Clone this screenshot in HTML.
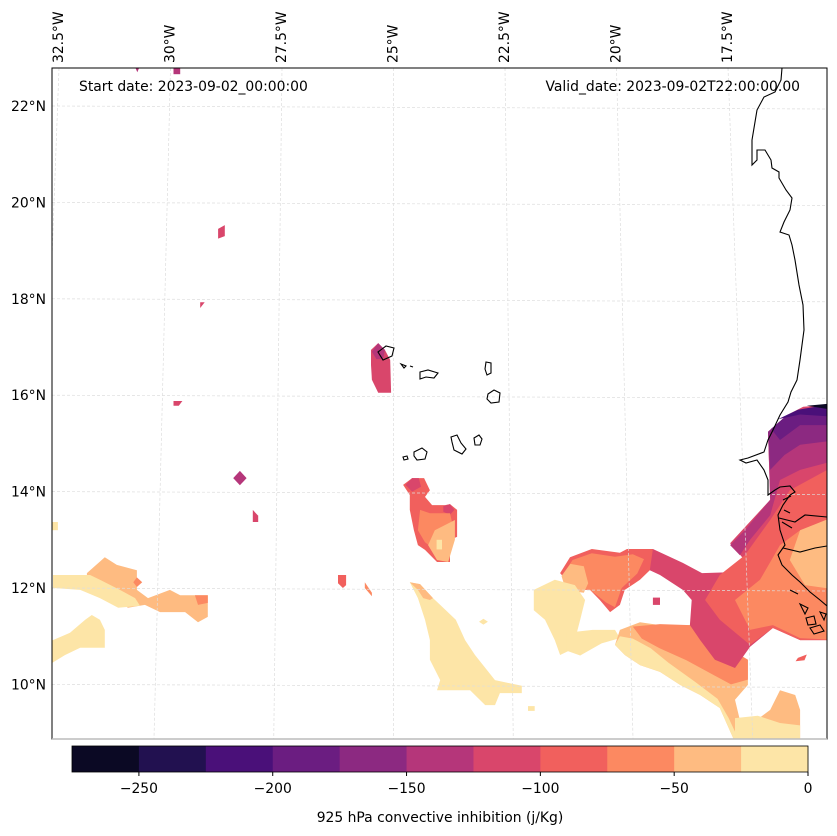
<!DOCTYPE html>
<html><head><meta charset="utf-8"><style>
html,body{margin:0;padding:0;background:#fff;}
svg{display:block;font-family:"DejaVu Sans","Liberation Sans",sans-serif;}
</style></head><body>
<svg id="chart" width="837" height="836" viewBox="0 0 837 836">
<defs><clipPath id="mapclip"><rect x="52" y="68" width="775" height="671"/></clipPath></defs>
<g id="fills" clip-path="url(#mapclip)"></g>
<g id="grid" clip-path="url(#mapclip)"></g>
<g clip-path="url(#mapclip)" fill="none" stroke="#000" stroke-width="1.1">
<path d="M782,68 L781,80 775,92 764,97 757,110 752,140 752,165 757,160 757,150 765,150 771,160 772,168 779,172 779,178 786,190 792,198 790,210 784,222 780,232 789,235 792,245 795,260 799,285 803,305 804,330 800,360 797,380 791,392 788,402 780,415 773,430 768,440 764,452 748,458 740,460 746,463 757,460 764,470 768,480 768,495 775,490 780,487 790,486 795,492 790,495 783,505 778,515 780,530 785,545 778,555 782,565 792,575 800,582 810,592 820,600 827,606"/>
<path d="M779,518 L795,522 805,515 827,517"/>
<path d="M783,548 L800,552 815,548 827,546"/>
<path d="M783,500 l8,-4 M784,510 l6,3 M782,522 l10,6 M790,590 l8,4 M800,604 l8,4 l-3,6 z M806,618 l8,-2 l2,8 l-8,1 z M810,628 l10,-3 l4,6 l-10,3 z M820,612 l6,2 l-2,6 z"/>
<path d="M378,352 l8,-6 l8,2 l-2,8 l-9,4 z"/>
<path d="M401,364 l5,2 l-2,2 z M410,366 l3,1"/>
<path d="M420,372 l8,-2 l10,3 l-4,5 l-8,-1 l-6,2 z"/>
<path d="M486,362 l5,1 l0,10 l-4,2 l-2,-6 z"/>
<path d="M488,394 l6,-4 l6,3 l-1,9 l-8,1 l-4,-4 z"/>
<path d="M451,437 l6,-2 l4,8 l5,6 l-4,5 l-8,-4 l-2,-8 z"/>
<path d="M474,438 l5,-3 l3,4 l-2,6 l-5,0 z"/>
<path d="M414,452 l8,-4 l5,4 l-2,7 l-8,1 l-3,-4 z"/>
<path d="M403,457 l4,-1 l1,3 l-4,1 z"/>
</g>
<rect x="52" y="68" width="775" height="671" fill="none" stroke="#000" stroke-width="1"/>
<line x1="52" y1="739" x2="827" y2="739" stroke="#bbb" stroke-width="1.5"/>
<g id="lonlabels" font-size="13.9" fill="#000"></g>
<g id="latlabels" font-size="13.9" fill="#000" text-anchor="end"></g>
<text x="79" y="91" font-size="13.9">Start date: 2023-09-02_00:00:00</text>
<text x="800" y="91" font-size="13.9" text-anchor="end">Valid_date: 2023-09-02T22:00:00.00</text>
<g id="cbar"></g>
<text x="440" y="822" font-size="13.9" text-anchor="middle">925 hPa convective inhibition (j/Kg)</text>
</svg>
<script>
const levels = [-275,-250,-225,-200,-175,-150,-125,-100,-75,-50,-25,0];
const levelColors = ["#0b0924","#221150","#4a1079","#6b1d81","#8c2981","#b5367a","#d9466b","#f1605d","#fc8961","#febb81","#fde5a7"];
const cbarTicks = [-250,-200,-150,-100,-50,0];
const lonTicks = [-32.5,-30,-27.5,-25,-22.5,-20,-17.5];
const lonTickLabels = ["32.5°W","30°W","27.5°W","25°W","22.5°W","20°W","17.5°W"];
const latTicks = [22,20,18,16,14,12,10];
const latTickLabels = ["22°N","20°N","18°N","16°N","14°N","12°N","10°N"];
// contour blobs: representative CIN value and lon/lat ring
const blobCin = [-40,-10,-60,-60,-10,-10,
 -90,-110,-110,-60,-40,-10,
 -110,-140,-140,-110,-110,-110,-110,-130,-130,-80,-60,
 -10,-40,-10,-10,
 -90,-60,-40,-10,-10,
 -40,-60,-10,-10,
 -110,-90,-60,-40,-140,-160,-190,-210,-260,-90,-110];
const blobRings = [
 [[-31.84,12.31],[-31.44,12.64],[-31.17,12.48],[-30.72,12.37],[-30.72,11.96],[-30.47,11.79],[-29.98,11.96],[-29.75,11.85],[-29.13,11.85],[-29.13,11.40],[-29.35,11.29],[-29.64,11.50],[-30.20,11.50],[-30.54,11.65],[-30.92,11.59],[-31.21,11.75],[-31.66,11.96],[-31.84,12.17]],
 [[-32.60,12.27],[-31.77,12.27],[-31.55,12.17],[-31.10,11.96],[-30.76,11.79],[-30.65,11.63],[-31.14,11.59],[-31.55,11.79],[-31.99,11.96],[-32.60,12.00]],
 [[-29.42,11.85],[-29.13,11.85],[-29.13,11.69],[-29.35,11.65]],
 [[-30.80,12.12],[-30.72,12.22],[-30.60,12.12],[-30.72,12.02]],
 [[-32.70,10.88],[-32.22,11.07],[-31.88,11.34],[-31.73,11.44],[-31.55,11.34],[-31.44,11.13],[-31.44,10.76],[-31.99,10.76],[-32.33,10.61],[-32.70,10.40]],
 [[-32.70,13.37],[-32.49,13.37],[-32.49,13.20],[-32.70,13.20]],
 [[-24.75,14.14],[-24.55,14.28],[-24.28,14.28],[-24.15,14.03],[-24.26,13.89],[-24.10,13.72],[-23.81,13.72],[-23.70,13.74],[-23.54,13.62],[-23.54,13.06],[-23.70,13.00],[-23.70,12.54],[-23.99,12.54],[-24.26,12.79],[-24.42,12.89],[-24.51,13.20],[-24.60,13.62],[-24.60,13.93]],
 [[-24.70,14.14],[-24.55,14.28],[-24.40,14.28],[-24.35,14.10],[-24.55,14.00]],
 [[-23.85,13.70],[-23.70,13.74],[-23.60,13.62],[-23.70,13.52],[-23.85,13.58]],
 [[-24.37,13.62],[-24.15,13.55],[-23.70,13.55],[-23.59,13.10],[-23.81,12.89],[-24.04,12.79],[-24.26,12.95],[-24.42,13.20]],
 [[-24.04,13.20],[-23.59,13.41],[-23.59,13.00],[-23.74,12.54],[-23.99,12.58],[-24.19,12.89]],
 [[-24.00,13.00],[-23.88,13.00],[-23.88,12.80],[-24.00,12.80]],
 [[-25.47,16.94],[-25.31,17.08],[-25.16,16.94],[-25.04,16.73],[-25.02,16.05],[-25.31,16.05],[-25.45,16.32],[-25.47,16.63]],
 [[-25.45,16.90],[-25.31,17.08],[-25.16,16.94],[-25.20,16.75],[-25.35,16.75]],
 [[-28.56,14.28],[-28.41,14.43],[-28.26,14.28],[-28.41,14.13]],
 [[-28.12,13.62],[-28.00,13.50],[-28.00,13.37],[-28.12,13.37]],
 [[-29.90,15.88],[-29.70,15.88],[-29.78,15.78],[-29.90,15.78]],
 [[-29.30,17.93],[-29.20,17.93],[-29.30,17.81]],
 [[-28.90,19.45],[-28.75,19.53],[-28.75,19.30],[-28.90,19.25]],
 [[-30.80,22.90],[-30.62,22.90],[-30.71,22.70]],
 [[-29.90,22.90],[-29.75,22.90],[-29.75,22.66],[-29.90,22.66]],
 [[-26.21,12.27],[-26.03,12.27],[-26.03,12.06],[-26.10,12.00],[-26.21,12.10]],
 [[-25.61,12.12],[-25.45,11.90],[-25.45,11.83],[-25.61,12.00]],
 [[-24.60,12.12],[-24.37,12.08],[-24.08,11.79],[-23.92,11.65],[-23.57,11.34],[-23.36,10.92],[-23.14,10.61],[-22.69,10.09],[-22.09,9.97],[-22.09,9.82],[-22.58,9.82],[-22.69,9.57],[-22.91,9.57],[-23.25,9.88],[-23.99,9.88],[-23.92,10.09],[-24.15,10.51],[-24.15,10.92],[-24.26,11.34],[-24.42,11.79]],
 [[-24.60,12.12],[-24.37,12.08],[-24.08,11.79],[-24.15,11.75],[-24.30,11.79],[-24.42,11.96]],
 [[-22.95,11.36],[-22.85,11.30],[-22.95,11.24],[-23.05,11.30]],
 [[-21.95,9.55],[-21.80,9.55],[-21.80,9.45],[-21.95,9.45]],
 [[-21.23,12.31],[-21.01,12.64],[-20.52,12.81],[-19.89,12.73],[-19.73,12.81],[-19.15,12.81],[-18.99,12.68],[-19.22,12.37],[-19.44,12.17],[-19.78,11.96],[-19.89,11.65],[-20.11,11.50],[-20.34,11.75],[-20.56,11.96],[-20.90,11.96]],
 [[-21.15,12.31],[-20.95,12.58],[-20.52,12.72],[-20.00,12.65],[-19.60,12.70],[-19.35,12.60],[-19.50,12.30],[-19.85,12.00],[-20.00,11.60],[-20.20,11.70],[-20.56,11.96],[-21.00,12.00]],
 [[-21.20,12.25],[-21.00,12.50],[-20.70,12.45],[-20.60,12.10],[-20.70,11.90],[-21.10,11.95]],
 [[-21.82,11.96],[-21.35,12.17],[-20.90,12.06],[-20.67,11.75],[-20.78,11.34],[-20.90,10.92],[-21.01,10.71],[-21.23,10.61],[-21.35,10.92],[-21.57,11.34],[-21.82,11.54]],
 [[-21.08,11.07],[-20.50,11.13],[-20.00,11.13],[-19.89,10.96],[-20.30,10.85],[-20.78,10.60],[-21.08,10.70]],
 [[-19.89,11.13],[-19.44,11.29],[-18.99,11.23],[-18.32,11.23],[-17.76,10.92],[-17.02,10.51],[-17.02,9.99],[-17.31,9.68],[-17.20,9.26],[-16.97,9.16],[-16.52,9.47],[-16.30,9.88],[-15.96,9.78],[-15.85,9.47],[-15.85,8.80],[-17.31,8.80],[-17.65,9.51],[-18.09,9.78],[-18.54,9.99],[-18.99,10.26],[-19.44,10.40],[-19.78,10.61],[-20.00,10.82]],
 [[-19.60,11.20],[-18.99,11.25],[-18.32,11.23],[-17.76,10.92],[-17.02,10.51],[-17.02,10.10],[-17.40,10.00],[-17.80,10.20],[-18.40,10.50],[-19.00,10.75],[-19.40,10.95]],
 [[-19.89,11.00],[-19.60,10.95],[-19.20,10.75],[-18.80,10.45],[-18.20,10.05],[-17.70,9.70],[-17.45,9.30],[-17.20,8.80],[-17.31,8.80],[-17.65,9.51],[-18.09,9.78],[-18.54,9.99],[-18.99,10.26],[-19.44,10.40],[-19.78,10.61],[-20.00,10.82]],
 [[-17.31,9.30],[-16.80,9.35],[-16.30,9.20],[-15.85,9.15],[-15.85,8.80],[-17.31,8.80]],
 [[-19.15,12.81],[-18.48,12.52],[-18.05,12.31],[-17.35,12.33],[-17.04,12.52],[-17.42,12.93],[-16.52,13.83],[-16.57,15.24],[-16.14,15.59],[-15.78,15.76],[-15.24,15.80],[-15.00,15.80],[-15.00,10.92],[-15.85,10.92],[-16.46,11.17],[-16.97,10.78],[-17.31,10.34],[-17.76,10.51],[-18.09,10.92],[-18.32,11.23],[-18.28,11.75],[-18.48,11.96],[-18.99,12.27],[-19.22,12.37]],
 [[-17.65,12.27],[-17.09,12.68],[-16.52,13.41],[-16.08,14.03],[-15.24,14.45],[-15.00,14.45],[-15.00,10.92],[-15.85,10.92],[-16.46,11.17],[-16.97,10.82],[-17.65,11.34],[-17.98,11.75]],
 [[-17.31,11.75],[-16.75,12.17],[-16.30,12.89],[-15.85,13.20],[-15.24,13.41],[-15.00,13.41],[-15.00,10.92],[-15.85,10.96],[-16.46,11.23],[-16.97,11.13]],
 [[-16.08,12.58],[-15.85,13.20],[-15.00,13.51],[-15.00,11.96],[-15.74,12.06]],
 [[-17.42,12.89],[-17.09,13.20],[-16.52,13.83],[-16.57,15.24],[-16.14,15.59],[-15.24,15.80],[-15.00,15.80],[-15.00,14.66],[-15.85,14.45],[-16.30,14.24],[-16.52,13.51],[-16.97,13.00],[-17.20,12.68]],
 [[-16.57,15.24],[-16.14,15.59],[-15.24,15.80],[-15.00,15.80],[-15.00,15.07],[-15.85,14.97],[-16.20,14.76],[-16.52,14.45]],
 [[-16.50,15.30],[-16.14,15.59],[-15.24,15.80],[-15.00,15.80],[-15.00,15.38],[-15.85,15.38],[-16.30,15.07]],
 [[-16.35,15.50],[-15.90,15.70],[-15.24,15.80],[-15.00,15.80],[-15.00,15.55],[-15.85,15.60]],
 [[-15.70,15.78],[-15.24,15.82],[-15.00,15.82],[-15.00,15.68]],
 [[-15.90,10.55],[-15.70,10.62],[-15.75,10.50],[-15.95,10.48]],
 [[-19.15,11.80],[-18.99,11.80],[-18.99,11.65],[-19.15,11.65]]
];
const NS='http://www.w3.org/2000/svg';
function px(lon){return 392+(lon+25)*44.6;}
function py(lat){return 106+(22-lat)*48.2;}
function gx(lon,lat){return 393.5+(lon+25)*(44.6+(22.8-lat)*0.237);}
function colorFor(v){for(let i=0;i<levelColors.length;i++){if(v>=levels[i]&&v<levels[i+1])return levelColors[i];}return levelColors[levelColors.length-1];}
const fills=document.getElementById('fills');
blobRings.forEach((ring,i)=>{
  const p=document.createElementNS(NS,'polygon');
  p.setAttribute('points',ring.map(c=>px(c[0]).toFixed(1)+','+py(c[1]).toFixed(1)).join(' '));
  p.setAttribute('fill',colorFor(blobCin[i]));
  
  
  fills.appendChild(p);
});
const grid=document.getElementById('grid');
lonTicks.concat([-15]).forEach(lon=>{
  const l=document.createElementNS(NS,'line');
  l.setAttribute('x1',gx(lon,22.8));l.setAttribute('y1',68);
  l.setAttribute('x2',gx(lon,8.87));l.setAttribute('y2',739);
  l.setAttribute('stroke','#ddd');l.setAttribute('stroke-width','0.7');l.setAttribute('stroke-dasharray','3,2');
  
  
  grid.appendChild(l);
});
latTicks.forEach(lat=>{
  const l=document.createElementNS(NS,'line');
  l.setAttribute('x1',52);l.setAttribute('y1',py(lat));l.setAttribute('x2',827);l.setAttribute('y2',py(lat)+3);
  l.setAttribute('stroke','#ddd');l.setAttribute('stroke-width','0.7');l.setAttribute('stroke-dasharray','3,2');
  
  
  grid.appendChild(l);
});
const lonG=document.getElementById('lonlabels');
lonTicks.forEach((lon,i)=>{
  const t=document.createElementNS(NS,'text');
  const x=gx(lon,22.8)+4;
  t.setAttribute('transform','translate('+x.toFixed(1)+',63) rotate(-90)');
  t.textContent=lonTickLabels[i];
  
  
  lonG.appendChild(t);
});
const latG=document.getElementById('latlabels');
latTicks.forEach((lat,i)=>{
  const t=document.createElementNS(NS,'text');
  t.setAttribute('x',46);t.setAttribute('y',py(lat)+5);
  t.textContent=latTickLabels[i];
  
  
  latG.appendChild(t);
});
const cb=document.getElementById('cbar');
function cbx(v){return 808+v*(736/275);}
levelColors.forEach((c,i)=>{
  const r=document.createElementNS(NS,'rect');
  r.setAttribute('x',cbx(levels[i]));r.setAttribute('y',746);
  r.setAttribute('width',cbx(levels[i+1])-cbx(levels[i])+0.5);r.setAttribute('height',26);
  r.setAttribute('fill',c);
  
  
  cb.appendChild(r);
});
const ob=document.createElementNS(NS,'rect');
ob.setAttribute('x',72);ob.setAttribute('y',746);ob.setAttribute('width',736);ob.setAttribute('height',26);
ob.setAttribute('fill','none');ob.setAttribute('stroke','#000');ob.setAttribute('stroke-width','0.8');


cb.appendChild(ob);
cbarTicks.forEach(v=>{
  const l=document.createElementNS(NS,'line');
  l.setAttribute('x1',cbx(v));l.setAttribute('x2',cbx(v));l.setAttribute('y1',772);l.setAttribute('y2',776);
  l.setAttribute('stroke','#000');
  
  
  cb.appendChild(l);
  const t=document.createElementNS(NS,'text');
  t.setAttribute('x',cbx(v));t.setAttribute('y',793);t.setAttribute('text-anchor','middle');t.setAttribute('font-size','13.9');
  t.textContent=v<0?'\u2212'+Math.abs(v):String(v);
  
  
  cb.appendChild(t);
});
</script>
</body></html>
